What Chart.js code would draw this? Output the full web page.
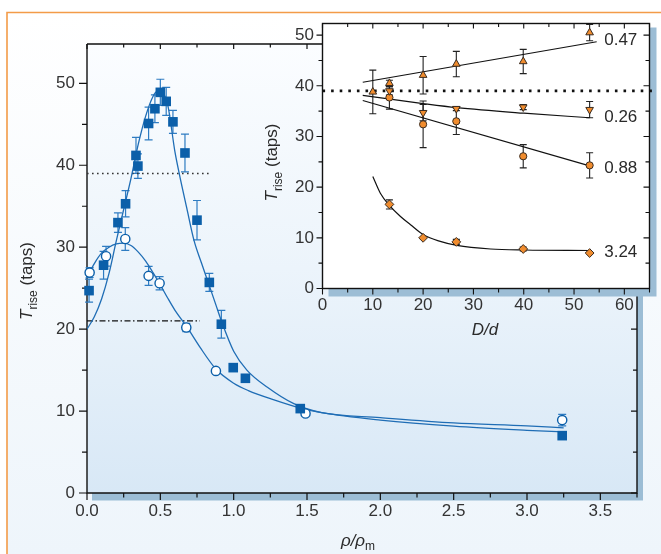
<!DOCTYPE html>
<html><head><meta charset="utf-8">
<script src="https://cdn.jsdelivr.net/npm/chart.js@4"></script>
<style>
html,body{margin:0;padding:0;background:#fff;}
#wrap{position:relative;width:661px;height:554px;overflow:hidden;}
canvas{position:absolute;left:0;top:0;}
</style></head><body>
<div id="wrap"><canvas id="main" width="661" height="554"></canvas><canvas id="inset" width="661" height="554"></canvas></div>
<script>
// ---------- main panel data ----------
const sqX   = [0.014, 0.113, 0.211, 0.263, 0.334, 0.347, 0.42, 0.463, 0.50, 0.54, 0.586, 0.668, 0.75, 0.834, 0.916, 0.997, 1.08, 1.454, 3.24];
const sqY   = [24.7, 27.8, 33.0, 35.3, 41.2, 39.9, 45.1, 46.9, 48.9, 47.8, 45.3, 41.5, 33.3, 25.7, 20.6, 15.3, 14.0, 10.3, 7.0];
const sqErr = [1.4, 1.7, 1.2, 1.6, 2.2, 1.5, 2.0, 1.7, 1.6, 1.7, 1.4, 2.3, 2.4, 1.1, 1.7, 0, 0, 0, 0];

const cirX   = [0.018, 0.13, 0.261, 0.42, 0.495, 0.677, 0.879, 1.49, 3.24];
const cirY   = [26.9, 28.9, 31.0, 26.5, 25.6, 20.2, 14.9, 9.7, 8.9];
const cirErr = [0.6, 1.2, 1.4, 1.15, 0.8, 0.5, 0, 0, 0.7];

const fitSqX = [0, 0.05, 0.1, 0.15, 0.2, 0.25, 0.3, 0.35, 0.4, 0.45, 0.48, 0.51, 0.55, 0.6, 0.63, 0.68, 0.73, 0.78, 0.83, 0.88, 0.92, 1.0, 1.09, 1.23, 1.41, 1.6, 2.0, 2.5, 3.0, 3.25];
const fitSqY = [20.0, 21.5, 23.7, 26.8, 30.8, 34.6, 38.4, 42.6, 46.0, 48.4, 49.0, 48.9, 47.4, 41.6, 38.9, 34.8, 30.8, 28.1, 25.5, 22.9, 20.8, 17.3, 15.0, 12.9, 10.9, 9.8, 9.2, 8.55, 8.2, 7.95];

const fitCirX = [0, 0.05, 0.1, 0.15, 0.2, 0.25, 0.3, 0.35, 0.4, 0.45, 0.5, 0.55, 0.6, 0.68, 0.77, 0.88, 1.0, 1.1, 1.27, 1.45, 1.6, 2.0, 2.5, 3.0, 3.25];
const fitCirY = [26.3, 28.0, 29.3, 30.0, 30.4, 30.5, 30.2, 29.4, 28.3, 26.9, 25.4, 23.8, 22.3, 20.3, 17.8, 15.1, 13.4, 12.5, 11.4, 10.4, 9.8, 8.9, 8.15, 7.65, 7.45];

const refDotX  = [0, 0.83], refDotY  = [39, 39];
const refDashX = [0, 0.77], refDashY = [21, 21];

const mainXTicks = [0, 0.5, 1, 1.5, 2, 2.5, 3, 3.5];
const mainYTicks = [0, 10, 20, 30, 40, 50];

// ---------- inset data ----------
const tri47X = [10.0, 13.3, 20.0, 26.6, 39.9, 53.1];
const tri47Y = [38.8, 40.5, 42.1, 44.3, 44.8, 50.5];
const tri47E = [4.3, 0.6, 3.7, 2.5, 2.4, 1.6];

const dn26X = [13.3, 20.0, 26.6, 39.9, 53.1];
const dn26Y = [39.0, 34.7, 35.5, 35.8, 35.3];
const dn26E = [0.8, 1.6, 0.4, 0.5, 1.6];

const cir88X = [13.3, 20.0, 26.6, 39.9, 53.1];
const cir88Y = [37.7, 32.4, 33.0, 26.1, 24.3];
const cir88E = [2.3, 4.6, 2.6, 2.3, 2.5];

const dia324X = [13.3, 20.0, 26.6, 39.9, 53.1];
const dia324Y = [16.6, 10.0, 9.2, 7.8, 7.0];
const dia324E = [0.9, 0, 0.5, 0.4, 0];

const fit47X = [8, 54.5], fit47Y = [40.7, 48.7];
const fit26X = [8, 20, 26.7, 40, 53.1], fit26Y = [38.1, 36.5, 35.7, 34.6, 33.7];
const fit88X = [8, 53.1], fit88Y = [37.1, 24.2];
const fit324X = [10, 11.5, 13.3, 15.5, 17.5, 20.1, 23.4, 26.7, 33.4, 40.2, 53.1];
const fit324Y = [22.1, 18.8, 16.4, 14.2, 12.6, 10.6, 9.3, 8.5, 7.8, 7.6, 7.5];

const insetRefX = [0, 66.2], insetRefY = [39, 39];
const insetLabelText = ['0.47', '0.26', '0.88', '3.24'];
const insetLabelY = [48.9, 33.7, 23.8, 7.1];
const insetLabelX = 56;

const insetXTicks = [0, 10, 20, 30, 40, 50, 60];
const insetYTicks = [0, 10, 20, 30, 40, 50];

// ---------- helpers ----------
const FF = '"Liberation Sans", Arial, Helvetica, sans-serif';
const BLUE = '#0b5fa9';
const BLUE_LINE = '#1f6db5';
const ORANGE = '#f08c2e';
const pts = (xs, ys) => xs.map((x, i) => ({x: x, y: ys[i]}));

function richText(ctx, parts, x, y, rot) {
  ctx.save();
  ctx.translate(x, y);
  if (rot) ctx.rotate(rot);
  let total = 0;
  parts.forEach(p => { ctx.font = (p.italic ? 'italic ' : '') + p.size + 'px ' + FF; p.w = ctx.measureText(p.t).width; total += p.w; });
  let cx = -total / 2;
  ctx.textBaseline = 'alphabetic';
  ctx.textAlign = 'left';
  ctx.fillStyle = '#2a2a2a';
  parts.forEach(p => { ctx.font = (p.italic ? 'italic ' : '') + p.size + 'px ' + FF; ctx.fillText(p.t, cx, p.dy || 0); cx += p.w; });
  ctx.restore();
}

function ticksH(ctx, scale, step, majorEvery, y, dir, lMaj, lMin) {
  const n = Math.floor((scale.max - scale.min) / step + 1e-6);
  for (let k = 0; k <= n; k++) {
    const v = scale.min + k * step;
    const px = scale.getPixelForValue(v);
    const len = (k % majorEvery === 0) ? lMaj : lMin;
    ctx.moveTo(px, y); ctx.lineTo(px, y + dir * len);
  }
}
function ticksV(ctx, scale, step, majorEvery, x, dir, lMaj, lMin) {
  const n = Math.floor((scale.max - scale.min) / step + 1e-6);
  for (let k = 0; k <= n; k++) {
    const v = scale.min + k * step;
    const py = scale.getPixelForValue(v);
    const len = (k % majorEvery === 0) ? lMaj : lMin;
    ctx.moveTo(x, py); ctx.lineTo(x + dir * len, py);
  }
}

const errorBars = {
  id: 'errorBars',
  beforeDatasetsDraw(chart) {
    const ctx = chart.ctx, xs = chart.scales.x, ys = chart.scales.y;
    chart.data.datasets.forEach(ds => {
      if (!ds.errors) return;
      ctx.save();
      ctx.strokeStyle = ds.errorColor; ctx.lineWidth = ds.errorWidth;
      ds.data.forEach((p, i) => {
        const e = ds.errors[i]; if (!e) return;
        const px = xs.getPixelForValue(p.x);
        const y1 = ys.getPixelForValue(p.y + e), y2 = ys.getPixelForValue(p.y - e);
        const c = ds.capHalf;
        ctx.beginPath();
        ctx.moveTo(px, y1); ctx.lineTo(px, y2);
        ctx.moveTo(px - c, y1); ctx.lineTo(px + c, y1);
        ctx.moveTo(px - c, y2); ctx.lineTo(px + c, y2);
        ctx.stroke();
      });
      ctx.restore();
    });
  }
};

// ---------- main chart ----------
const mainDecor = {
  id: 'mainDecor',
  beforeDraw(chart) {
    const {ctx, chartArea: a, width, height} = chart;
    ctx.save();
    const g = ctx.createLinearGradient(0, 12, 0, height);
    g.addColorStop(0, '#ffffff'); g.addColorStop(1, '#eef5fb');
    ctx.fillStyle = g; ctx.fillRect(7, 12, width - 7, height - 12);
    ctx.strokeStyle = '#f39b48'; ctx.lineWidth = 1.6;
    ctx.beginPath(); ctx.moveTo(7, height); ctx.lineTo(7, 12.5); ctx.lineTo(width, 12.5); ctx.stroke();
    // shadow
    ctx.fillStyle = '#9cbdd5';
    ctx.fillRect(a.left + 5, a.top + 6, a.right - a.left + 1, a.bottom - a.top + 1.5);
    const pg = ctx.createLinearGradient(0, a.top, 0, a.bottom);
    pg.addColorStop(0, '#fbfdff'); pg.addColorStop(0.5, '#ecf4fb'); pg.addColorStop(1, '#d8e8f6');
    ctx.fillStyle = pg; ctx.fillRect(a.left, a.top, a.right - a.left, a.bottom - a.top);
    ctx.restore();
  },
  beforeDatasetsDraw(chart) {
    const {ctx, chartArea: a} = chart;
    const xs = chart.scales.x, ys = chart.scales.y;
    ctx.save();
    ctx.strokeStyle = '#111'; ctx.lineWidth = 1.4;
    ctx.beginPath();
    ctx.moveTo(a.left, a.top); ctx.lineTo(a.left, a.bottom); ctx.lineTo(a.right, a.bottom); ctx.lineTo(a.right, a.top); ctx.lineTo(a.left, a.top);
    ctx.stroke();
    ctx.lineWidth = 1.2;
    ctx.beginPath();
    ticksV(ctx, ys, 5, 2, a.left, -1, 8, 5);
    ticksV(ctx, ys, 5, 2, a.right, -1, 6, 4);
    ticksH(ctx, xs, 0.25, 2, a.bottom, 1, 7, 4.5);
    ticksH(ctx, xs, 0.25, 2, a.top, 1, 5, 3.5);
    ctx.stroke();
    ctx.restore();
  },
  afterDraw(chart) {
    const ctx = chart.ctx;
    richText(ctx, [{t: 'ρ/ρ', size: 17, italic: true}, {t: 'm', size: 12, dy: 4}], 358, 546);
    richText(ctx, [{t: 'T', size: 17, italic: true}, {t: 'rise', size: 12, dy: 4.5}, {t: ' (taps)', size: 17}], 32, 281, -Math.PI / 2);
  }
};

const tickFont = {family: FF, size: 17};

new Chart(document.getElementById('main'), {
  type: 'scatter',
  data: {
    datasets: [
      {data: pts(sqX, sqY), showLine: false, pointStyle: 'rect', pointRadius: 6.8, backgroundColor: BLUE, borderColor: BLUE, borderWidth: 0, clip: false, order: 0,
       errors: sqErr, errorColor: '#2f7cc2', errorWidth: 1.2, capHalf: 4},
      {data: pts(cirX, cirY), showLine: false, pointStyle: 'circle', pointRadius: 4.6, backgroundColor: '#ffffff', borderColor: BLUE, borderWidth: 1.4, clip: false, order: 1,
       errors: cirErr, errorColor: '#2f7cc2', errorWidth: 1.2, capHalf: 4},
      {data: pts(fitSqX, fitSqY), showLine: true, pointRadius: 0, borderColor: BLUE_LINE, borderWidth: 1.3, cubicInterpolationMode: 'monotone', fill: false, order: 5},
      {data: pts(fitCirX, fitCirY), showLine: true, pointRadius: 0, borderColor: BLUE_LINE, borderWidth: 1.3, cubicInterpolationMode: 'monotone', fill: false, order: 5},
      {data: pts(refDotX, refDotY), showLine: true, pointRadius: 0, borderColor: '#333', borderWidth: 1.6, borderDash: [1.6, 3.4], fill: false, order: 6},
      {data: pts(refDashX, refDashY), showLine: true, pointRadius: 0, borderColor: '#111', borderWidth: 1.3, borderDash: [6, 2.5, 1.5, 2.5], fill: false, order: 6}
    ]
  },
  options: {
    responsive: false, animation: false, events: [],
    layout: {padding: {left: 0, top: 44, right: 24, bottom: 0}},
    plugins: {legend: {display: false}, tooltip: {enabled: false}},
    scales: {
      x: {type: 'linear', min: 0, max: 3.75,
          afterFit(s) { s.height = 61; },
          afterBuildTicks(s) { s.ticks = mainXTicks.map(v => ({value: v})); },
          ticks: {padding: 8, font: tickFont, color: '#333', maxRotation: 0, autoSkip: false, callback: v => Number(v).toFixed(1)},
          grid: {display: false, drawTicks: false}, border: {display: false}},
      y: {type: 'linear', min: 0, max: 54.8,
          afterFit(s) { s.width = 87; },
          afterBuildTicks(s) { s.ticks = mainYTicks.map(v => ({value: v})); },
          ticks: {padding: 12, font: tickFont, color: '#333', autoSkip: false},
          grid: {display: false, drawTicks: false}, border: {display: false}}
    }
  },
  plugins: [mainDecor, errorBars]
});

// ---------- inset chart ----------
const insetDecor = {
  id: 'insetDecor',
  beforeDraw(chart) {
    const {ctx, chartArea: a} = chart;
    ctx.save();
    ctx.fillStyle = '#9cbdd5';
    ctx.fillRect(a.left + 6, a.top + 4, a.right - a.left + 1, a.bottom - a.top + 4);
    ctx.fillStyle = '#ffffff';
    ctx.fillRect(a.left, a.top, a.right - a.left, a.bottom - a.top);
    ctx.restore();
  },
  beforeDatasetsDraw(chart) {
    const {ctx, chartArea: a} = chart;
    const xs = chart.scales.x, ys = chart.scales.y;
    ctx.save();
    ctx.strokeStyle = '#111'; ctx.lineWidth = 1.4;
    ctx.strokeRect(a.left, a.top, a.right - a.left, a.bottom - a.top);
    ctx.lineWidth = 1.1;
    ctx.beginPath();
    ticksV(ctx, ys, 5, 2, a.left, -1, 6, 4);
    ticksV(ctx, ys, 5, 2, a.right, -1, 6, 4);
    ticksH(ctx, xs, 5, 2, a.bottom, 1, 6, 4);
    ticksH(ctx, xs, 5, 2, a.top, 1, 5, 3.5);
    ctx.stroke();
    ctx.restore();
  },
  afterDraw(chart) {
    const ctx = chart.ctx, xs = chart.scales.x, ys = chart.scales.y;
    ctx.save();
    ctx.font = '17px ' + FF; ctx.fillStyle = '#2a2a2a'; ctx.textAlign = 'left'; ctx.textBaseline = 'middle';
    insetLabelText.forEach((t, i) => ctx.fillText(t, xs.getPixelForValue(insetLabelX), ys.getPixelForValue(insetLabelY[i])));
    ctx.restore();
    richText(ctx, [{t: 'D/d', size: 17, italic: true}], 485, 335);
    richText(ctx, [{t: 'T', size: 17, italic: true}, {t: 'rise', size: 12, dy: 4.5}, {t: ' (taps)', size: 17}], 277, 162.5, -Math.PI / 2);
  }
};

const mk = (xs, ys, es, style, rot, r) => ({
  data: pts(xs, ys), showLine: false, pointStyle: style, rotation: rot, pointRadius: r,
  backgroundColor: ORANGE, borderColor: '#3b2c20', borderWidth: 1, clip: false, order: 0,
  errors: es, errorColor: '#222', errorWidth: 1.1, capHalf: 3.5
});
const ln = (xs, ys, extra) => Object.assign({data: pts(xs, ys), showLine: true, pointRadius: 0, borderColor: '#111', borderWidth: 1.2, fill: false, order: 5, cubicInterpolationMode: 'monotone'}, extra || {});

new Chart(document.getElementById('inset'), {
  type: 'scatter',
  data: {
    datasets: [
      mk(tri47X, tri47Y, tri47E, 'triangle', 0, 4.4),
      mk(dn26X, dn26Y, dn26E, 'triangle', 180, 4.4),
      mk(cir88X, cir88Y, cir88E, 'circle', 0, 3.6),
      mk(dia324X, dia324Y, dia324E, 'rectRot', 0, 4.4),
      ln(fit47X, fit47Y),
      ln(fit26X, fit26Y),
      ln(fit88X, fit88Y),
      ln(fit324X, fit324Y),
      ln(insetRefX, insetRefY, {borderWidth: 2.6, borderDash: [2.6, 6], order: 6, clip: false})
    ]
  },
  options: {
    responsive: false, animation: false, events: [],
    layout: {padding: {left: 0, top: 23.5, right: 11.5, bottom: 220.5}},
    plugins: {legend: {display: false}, tooltip: {enabled: false}},
    scales: {
      x: {type: 'linear', min: 0, max: 65,
          afterFit(s) { s.height = 45; },
          afterBuildTicks(s) { s.ticks = insetXTicks.map(v => ({value: v})); },
          ticks: {padding: 6.5, font: tickFont, color: '#333', maxRotation: 0, autoSkip: false},
          grid: {display: false, drawTicks: false}, border: {display: false}},
      y: {type: 'linear', min: 0, max: 52.3,
          afterFit(s) { s.width = 322.5; },
          afterBuildTicks(s) { s.ticks = insetYTicks.map(v => ({value: v})); },
          ticks: {padding: 8.5, font: tickFont, color: '#333', autoSkip: false},
          grid: {display: false, drawTicks: false}, border: {display: false}}
    }
  },
  plugins: [insetDecor, errorBars]
});
</script>
</body></html>
